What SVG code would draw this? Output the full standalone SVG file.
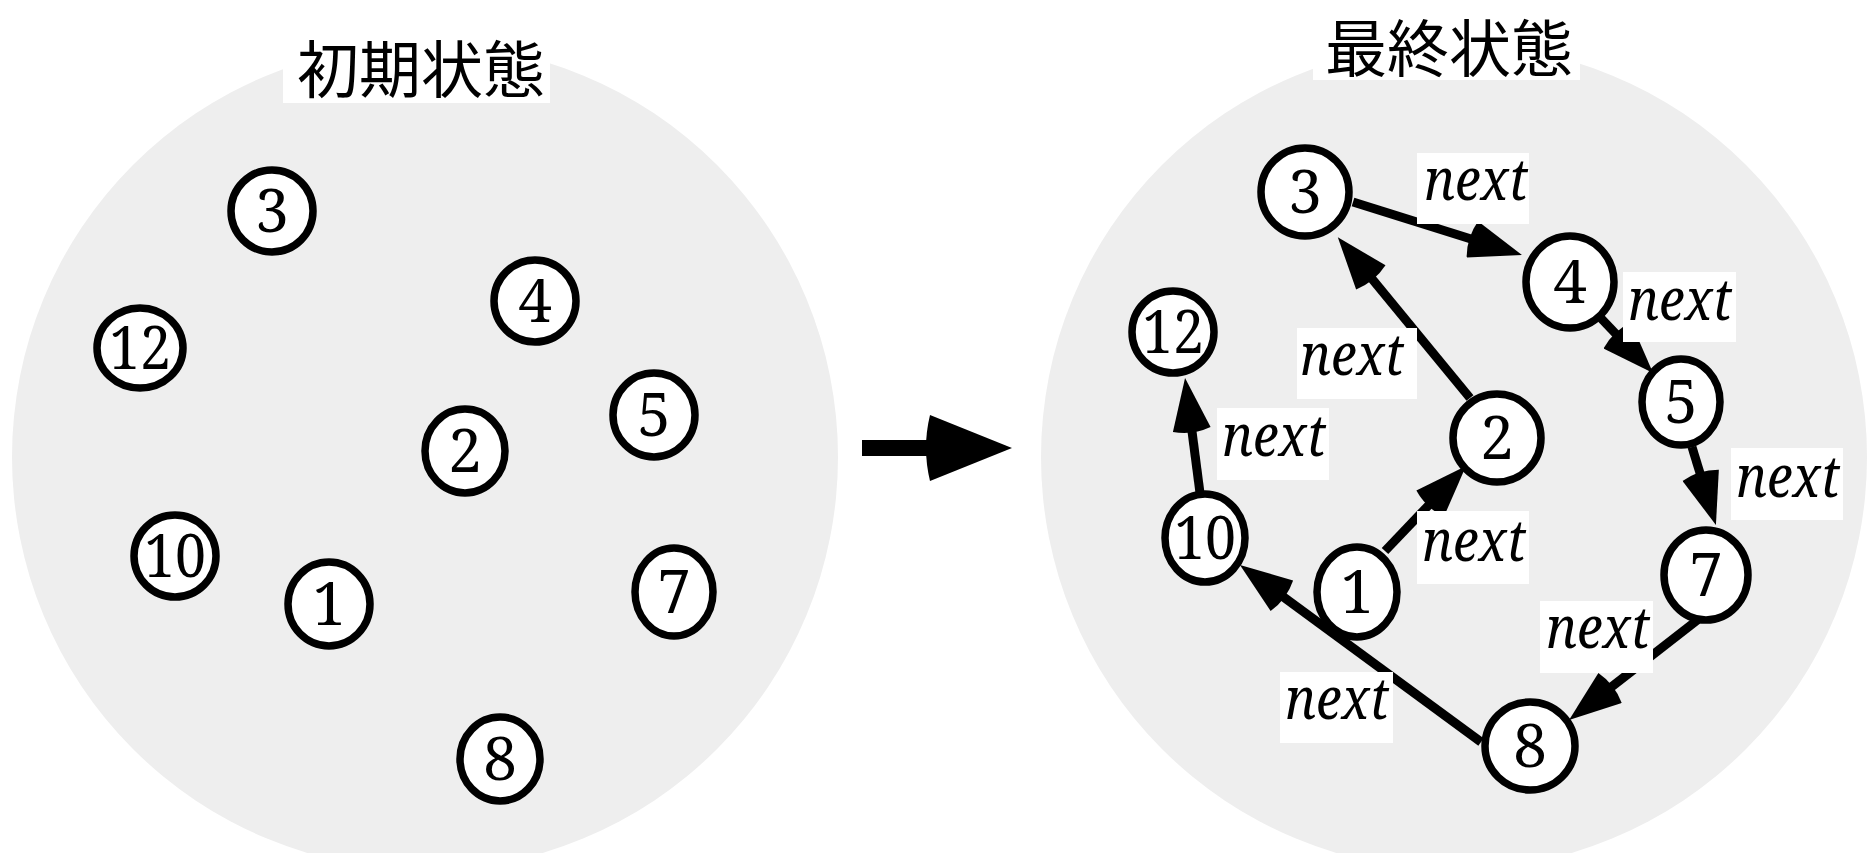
<svg xmlns="http://www.w3.org/2000/svg" width="1871" height="853" viewBox="0 0 1871 853">
<defs>
<style>
.panel{fill:#eeeeee;}
.title{font-family:"Noto Sans CJK JP","Noto Sans CJK SC",sans-serif;font-size:62px;text-anchor:middle;fill:#000;}
.tbox{fill:#ffffff;}
.node ellipse{fill:#ffffff;stroke:#000;stroke-width:7.5;}
.num{font-family:"Noto Serif","DejaVu Serif",serif;font-size:60px;text-anchor:middle;fill:#000;}
.edge{stroke:#000;stroke-width:9;fill:none;marker-end:url(#ah);}
.lbl rect{fill:#ffffff;}
.nx{font-family:"Noto Serif","DejaVu Serif",serif;font-style:italic;font-size:58px;fill:#000;}
</style>
<marker id="ah" markerUnits="userSpaceOnUse" viewBox="-8 0 62 38" markerWidth="62" markerHeight="38" refX="12" refY="19" orient="auto">
<path d="M0,0 L52,19 L0,38 Q-6,19 0,0 Z" fill="#000"/>
</marker>
</defs>
<rect width="1871" height="853" fill="#ffffff"/>
<circle class="panel" cx="425" cy="457" r="413"/>
<circle class="panel" cx="1454" cy="457" r="413"/>
<g id="title-initial">
<rect class="tbox" x="283" y="29" width="267" height="74"/>
<text class="title" x="421" y="93">初期状態</text>
</g>
<g id="title-final">
<rect class="tbox" x="1313" y="6" width="267" height="74"/>
<text class="title" x="1449" y="72">最終状態</text>
</g>
<g id="main-arrow">
<rect x="862" y="440" width="72" height="16" fill="#000"/>
<path d="M930,415 L1012,448 L930,481 Q922,448 930,415 Z" fill="#000"/>
</g>
<g id="left-nodes">
<g id="L3" class="node"><ellipse cx="272" cy="211" rx="41" ry="41"/><text class="num" x="272" y="232">3</text></g>
<g id="L4" class="node"><ellipse cx="535" cy="301" rx="41" ry="41"/><text class="num" x="535" y="322">4</text></g>
<g id="L12" class="node"><ellipse cx="140" cy="348" rx="43" ry="40"/><text class="num" x="140" y="369" textLength="62" lengthAdjust="spacingAndGlyphs">12</text></g>
<g id="L5" class="node"><ellipse cx="654" cy="415" rx="41" ry="42"/><text class="num" x="654" y="436">5</text></g>
<g id="L2" class="node"><ellipse cx="465" cy="451" rx="40" ry="42"/><text class="num" x="465" y="472">2</text></g>
<g id="L10" class="node"><ellipse cx="175" cy="556" rx="41" ry="41"/><text class="num" x="175" y="577" textLength="62" lengthAdjust="spacingAndGlyphs">10</text></g>
<g id="L1" class="node"><ellipse cx="329" cy="604" rx="41" ry="42"/><text class="num" x="329" y="625">1</text></g>
<g id="L7" class="node"><ellipse cx="674" cy="592" rx="39" ry="44"/><text class="num" x="674" y="613">7</text></g>
<g id="L8" class="node"><ellipse cx="500" cy="759" rx="40" ry="42"/><text class="num" x="500" y="780">8</text></g>
</g>
<g id="connectors">
<line class="edge" x1="1353" y1="202" x2="1483.8" y2="243"/>
<line class="edge" x1="1470" y1="398" x2="1363.2" y2="268.1"/>
<line class="edge" x1="1596" y1="313" x2="1625.5" y2="344"/>
<line class="edge" x1="1385" y1="551" x2="1438.4" y2="495"/>
<line class="edge" x1="1692" y1="447" x2="1704.2" y2="486.8"/>
<line class="edge" x1="1700" y1="618" x2="1600.6" y2="695.4"/>
<line class="edge" x1="1481" y1="742" x2="1272.2" y2="588.7"/>
<line class="edge" x1="1200" y1="493" x2="1190.2" y2="417.6"/>
</g>
<g id="labels">
<g class="lbl"><rect x="1417" y="153" width="112" height="71"/><text class="nx" x="1424" y="200" textLength="104" lengthAdjust="spacingAndGlyphs">next</text></g>
<g class="lbl"><rect x="1297" y="328" width="120" height="71"/><text class="nx" x="1300" y="375" textLength="104" lengthAdjust="spacingAndGlyphs">next</text></g>
<g class="lbl"><rect x="1623" y="272" width="113" height="70"/><text class="nx" x="1628" y="320" textLength="104" lengthAdjust="spacingAndGlyphs">next</text></g>
<g class="lbl"><rect x="1217" y="408" width="112" height="72"/><text class="nx" x="1222" y="456" textLength="104" lengthAdjust="spacingAndGlyphs">next</text></g>
<g class="lbl"><rect x="1417" y="511" width="112" height="73"/><text class="nx" x="1422" y="561" textLength="104" lengthAdjust="spacingAndGlyphs">next</text></g>
<g class="lbl"><rect x="1731" y="448" width="112" height="72"/><text class="nx" x="1736" y="497" textLength="104" lengthAdjust="spacingAndGlyphs">next</text></g>
<g class="lbl"><rect x="1540" y="601" width="113" height="72"/><text class="nx" x="1546" y="648" textLength="104" lengthAdjust="spacingAndGlyphs">next</text></g>
<g class="lbl"><rect x="1280" y="672" width="113" height="71"/><text class="nx" x="1285" y="719" textLength="104" lengthAdjust="spacingAndGlyphs">next</text></g>
</g>
<g id="right-nodes">
<g id="R3" class="node"><ellipse cx="1305" cy="192" rx="44" ry="44"/><text class="num" x="1305" y="213">3</text></g>
<g id="R4" class="node"><ellipse cx="1570" cy="282" rx="44" ry="46"/><text class="num" x="1570" y="303">4</text></g>
<g id="R12" class="node"><ellipse cx="1173" cy="332" rx="41" ry="41"/><text class="num" x="1173" y="353" textLength="62" lengthAdjust="spacingAndGlyphs">12</text></g>
<g id="R2" class="node"><ellipse cx="1497" cy="438" rx="44" ry="44"/><text class="num" x="1497" y="459">2</text></g>
<g id="R5" class="node"><ellipse cx="1681" cy="402" rx="39" ry="43"/><text class="num" x="1681" y="423">5</text></g>
<g id="R10" class="node"><ellipse cx="1205" cy="538" rx="40" ry="44"/><text class="num" x="1205" y="559" textLength="62" lengthAdjust="spacingAndGlyphs">10</text></g>
<g id="R1" class="node"><ellipse cx="1357" cy="592" rx="40" ry="45"/><text class="num" x="1357" y="613">1</text></g>
<g id="R7" class="node"><ellipse cx="1706" cy="575" rx="42" ry="45"/><text class="num" x="1706" y="596">7</text></g>
<g id="R8" class="node"><ellipse cx="1530" cy="746" rx="45" ry="44"/><text class="num" x="1530" y="767">8</text></g>
</g>
</svg>
